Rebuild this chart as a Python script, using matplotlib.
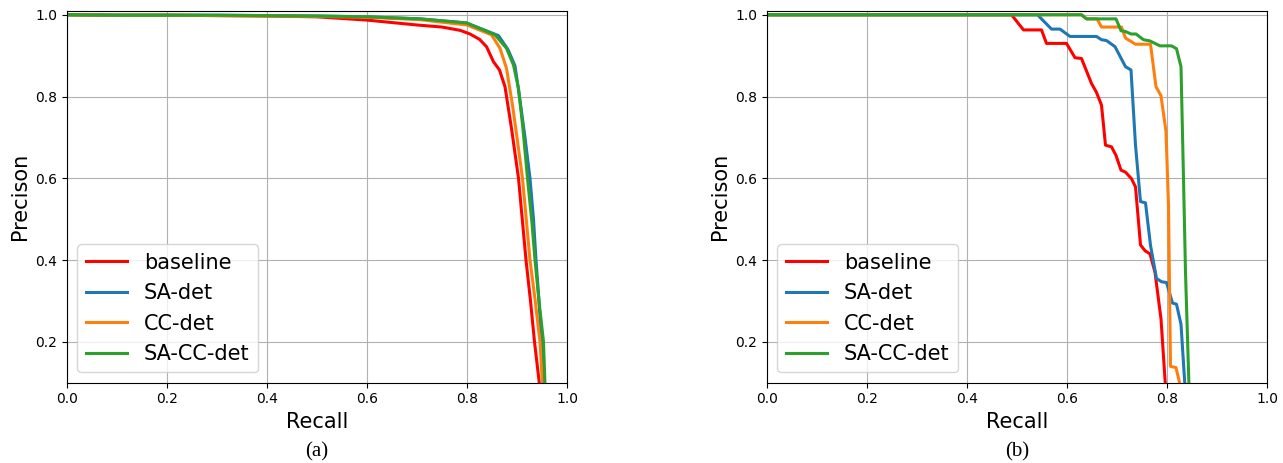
import numpy as np
import matplotlib
matplotlib.use("Agg")
import matplotlib.pyplot as plt

LABELS = ["baseline", "SA-det", "CC-det", "SA-CC-det"]
COLORS = ["red", "tab:blue", "tab:orange", "tab:green"]

# (a) precision-recall
a_base_r = [0.0, 0.1, 0.2, 0.3, 0.4, 0.5, 0.55, 0.6, 0.65, 0.7, 0.75, 0.786, 0.806, 0.825,
            0.839, 0.853, 0.865, 0.876, 0.889, 0.903, 0.918, 0.927, 0.935, 0.945]
a_base_p = [1.0, 0.999, 0.999, 0.998, 0.997, 0.995, 0.991, 0.987, 0.981, 0.975, 0.97, 0.962,
            0.953, 0.94, 0.922, 0.885, 0.865, 0.824, 0.722, 0.6, 0.4, 0.3, 0.2, 0.095]

a_sa_r = [0.0, 0.1, 0.2, 0.3, 0.4, 0.5, 0.6, 0.706, 0.799, 0.863, 0.882, 0.896, 0.906,
          0.916, 0.926, 0.933, 0.938, 0.944, 0.949, 0.954]
a_sa_p = [1.0, 0.999, 0.999, 0.999, 0.998, 0.997, 0.995, 0.99, 0.98, 0.949, 0.915, 0.875,
          0.791, 0.7, 0.6, 0.5, 0.4, 0.3, 0.2, 0.095]

a_cc_r = [0.0, 0.1, 0.2, 0.3, 0.4, 0.5, 0.6, 0.706, 0.8, 0.849, 0.866, 0.879, 0.891, 0.9,
          0.911, 0.926, 0.936, 0.946, 0.951]
a_cc_p = [1.0, 0.999, 0.999, 0.998, 0.997, 0.996, 0.994, 0.988, 0.975, 0.951, 0.918, 0.869,
          0.779, 0.7, 0.6, 0.4, 0.305, 0.2, 0.095]

a_sacc_r = [0.0, 0.1, 0.2, 0.3, 0.4, 0.5, 0.6, 0.706, 0.799, 0.856, 0.879, 0.893, 0.903,
            0.912, 0.921, 0.93, 0.936, 0.944, 0.953, 0.956]
a_sacc_p = [1.0, 0.999, 0.999, 0.999, 0.998, 0.997, 0.995, 0.99, 0.98, 0.951, 0.918, 0.877,
            0.82, 0.72, 0.6, 0.49, 0.4, 0.3, 0.2, 0.095]

# (b) precision-recall
b_base_r = [0.0, 0.489, 0.513, 0.549, 0.559, 0.599, 0.616, 0.629, 0.649, 0.659, 0.669, 0.677,
            0.689, 0.698, 0.708, 0.717, 0.729, 0.737, 0.747, 0.756, 0.766, 0.776, 0.788, 0.797]
b_base_p = [1.0, 1.0, 0.963, 0.963, 0.930, 0.930, 0.895, 0.893, 0.832, 0.810, 0.779, 0.681,
            0.677, 0.656, 0.620, 0.615, 0.599, 0.579, 0.437, 0.423, 0.415, 0.370, 0.256, 0.09]

b_sa_r = [0.0, 0.541, 0.569, 0.586, 0.606, 0.659, 0.669, 0.679, 0.696, 0.717, 0.728, 0.737,
          0.747, 0.757, 0.767, 0.779, 0.789, 0.799, 0.811, 0.819, 0.828, 0.836]
b_sa_p = [1.0, 1.0, 0.965, 0.965, 0.947, 0.947, 0.939, 0.937, 0.922, 0.873, 0.865, 0.681,
          0.543, 0.540, 0.436, 0.355, 0.347, 0.345, 0.295, 0.292, 0.243, 0.09]

b_cc_r = [0.0, 0.629, 0.639, 0.66, 0.669, 0.709, 0.717, 0.737, 0.767, 0.778, 0.788, 0.798,
          0.803, 0.807, 0.818, 0.827]
b_cc_p = [1.0, 1.0, 0.990, 0.990, 0.970, 0.970, 0.943, 0.928, 0.928, 0.824, 0.802, 0.714,
          0.534, 0.14, 0.137, 0.09]

b_sacc_r = [0.0, 0.629, 0.639, 0.698, 0.708, 0.717, 0.728, 0.738, 0.753, 0.766, 0.786, 0.809,
            0.819, 0.828, 0.833, 0.837, 0.844]
b_sacc_p = [1.0, 1.0, 0.990, 0.990, 0.961, 0.959, 0.953, 0.953, 0.939, 0.936, 0.924, 0.924,
            0.917, 0.873, 0.599, 0.370, 0.09]

PANELS = [
    ("(a)", [(a_base_r, a_base_p), (a_sa_r, a_sa_p), (a_cc_r, a_cc_p), (a_sacc_r, a_sacc_p)]),
    ("(b)", [(b_base_r, b_base_p), (b_sa_r, b_sa_p), (b_cc_r, b_cc_p), (b_sacc_r, b_sacc_p)]),
]


def draw_panel(ax, curves):
    for (r, p), label, color in zip(curves, LABELS, COLORS):
        ax.plot(r, p, color=color, lw=2.2, label=label)
    ax.set_xlim(0.0, 1.0)
    ax.set_ylim(0.1, 1.01)
    ax.set_xticks(np.arange(0, 1.01, 0.2))
    ax.set_yticks([0.2, 0.4, 0.6, 0.8, 1.0])
    ax.grid(True)
    ax.set_xlabel("Recall", fontsize=15)
    ax.set_ylabel("Precison", fontsize=15)
    ax.legend(loc="lower left", fontsize=15)


def main():
    fig = plt.figure(figsize=(12.83, 4.63), dpi=100)
    lefts = [67 / 1283, 767 / 1283]
    for left, (caption, curves) in zip(lefts, PANELS):
        ax = fig.add_axes([left, 0.1734, 500 / 1283, 0.8035])
        draw_panel(ax, curves)
        fig.text(left + 250 / 1283, 1 - 452 / 463, caption, ha="center", va="center",
                 fontsize=15, family="Liberation Serif")
    fig.savefig("out.png", dpi=100)
    plt.close(fig)


if __name__ == "__main__":
    main()
